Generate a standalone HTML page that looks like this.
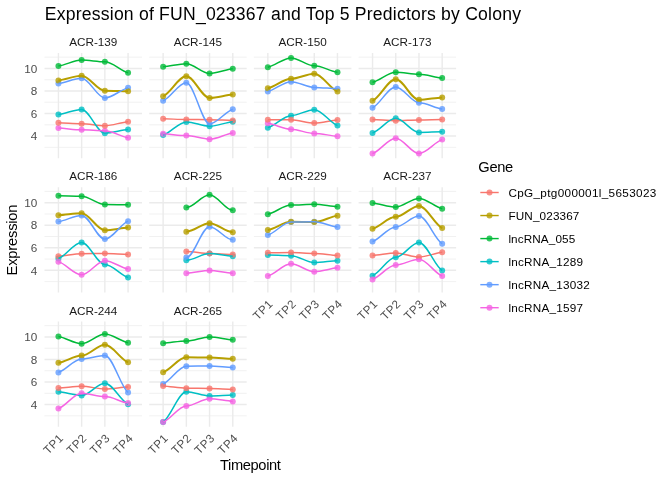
<!DOCTYPE html>
<html lang="en"><head><meta charset="utf-8"><title>Expression of FUN_023367 and Top 5 Predictors by Colony</title>
<style>html,body{margin:0;padding:0;background:#fff}svg{display:block}</style></head>
<body>
<svg width="672" height="480" viewBox="0 0 672 480" font-family="'Liberation Sans', sans-serif">
<rect width="672" height="480" fill="#fff"/>
<text x="44.8" y="19.8" font-size="17.6" fill="#000" textLength="476.2" lengthAdjust="spacing">Expression of FUN_023367 and Top 5 Predictors by Colony</text>
<g>
<text x="93.25" y="46" font-size="11.73" fill="#1A1A1A" text-anchor="middle">ACR-139</text>
<path d="M44.5,147.34H142M44.5,124.8H142M44.5,102.26H142M44.5,79.72H142M44.5,57.18H142" stroke="#EBEBEB" stroke-width="0.71" fill="none"/>
<path d="M44.5,136.07H142M44.5,113.53H142M44.5,90.99H142M44.5,68.45H142M58.43,53.1V158.3M81.64,53.1V158.3M104.86,53.1V158.3M128.07,53.1V158.3" stroke="#EBEBEB" stroke-width="1.42" fill="none"/>
<circle cx="58.43" cy="66.06" r="3" fill="#00BA38" fill-opacity="0.8"/>
<circle cx="81.64" cy="60.06" r="3" fill="#00BA38" fill-opacity="0.8"/>
<circle cx="104.86" cy="61.74" r="3" fill="#00BA38" fill-opacity="0.8"/>
<circle cx="128.07" cy="72.77" r="3" fill="#00BA38" fill-opacity="0.8"/>
<circle cx="58.43" cy="114.46" r="3" fill="#00BFC4" fill-opacity="0.8"/>
<circle cx="81.64" cy="109.43" r="3" fill="#00BFC4" fill-opacity="0.8"/>
<circle cx="104.86" cy="133.15" r="3" fill="#00BFC4" fill-opacity="0.8"/>
<circle cx="128.07" cy="129.56" r="3" fill="#00BFC4" fill-opacity="0.8"/>
<circle cx="58.43" cy="83.55" r="3" fill="#619CFF" fill-opacity="0.8"/>
<circle cx="81.64" cy="78.28" r="3" fill="#619CFF" fill-opacity="0.8"/>
<circle cx="104.86" cy="97.93" r="3" fill="#619CFF" fill-opacity="0.8"/>
<circle cx="128.07" cy="87.86" r="3" fill="#619CFF" fill-opacity="0.8"/>
<circle cx="58.43" cy="128.12" r="3" fill="#F564E3" fill-opacity="0.8"/>
<circle cx="81.64" cy="129.8" r="3" fill="#F564E3" fill-opacity="0.8"/>
<circle cx="104.86" cy="130.76" r="3" fill="#F564E3" fill-opacity="0.8"/>
<circle cx="128.07" cy="137.71" r="3" fill="#F564E3" fill-opacity="0.8"/>
<circle cx="58.43" cy="122.85" r="3" fill="#F8766D" fill-opacity="0.8"/>
<circle cx="81.64" cy="123.81" r="3" fill="#F8766D" fill-opacity="0.8"/>
<circle cx="104.86" cy="125.72" r="3" fill="#F8766D" fill-opacity="0.8"/>
<circle cx="128.07" cy="121.65" r="3" fill="#F8766D" fill-opacity="0.8"/>
<circle cx="58.43" cy="80.43" r="3" fill="#B79F00" fill-opacity="0.8"/>
<circle cx="81.64" cy="75.64" r="3" fill="#B79F00" fill-opacity="0.8"/>
<circle cx="104.86" cy="90.74" r="3" fill="#B79F00" fill-opacity="0.8"/>
<circle cx="128.07" cy="91.22" r="3" fill="#B79F00" fill-opacity="0.8"/>
<path d="M58.43,122.85C66.17,123.01 73.9,123.81 81.64,123.81C89.38,123.81 97.12,125.72 104.86,125.72C112.6,125.72 120.33,122.33 128.07,121.65" stroke="#F8766D" stroke-width="1.5" fill="none" stroke-linejoin="round"/>
<path d="M58.43,80.43C66.17,79.63 73.9,75.64 81.64,75.64C89.38,75.64 97.12,90.74 104.86,90.74C112.6,90.74 120.33,91.14 128.07,91.22" stroke="#B79F00" stroke-width="2" fill="none" stroke-linejoin="round"/>
<path d="M58.43,66.06C66.17,65.06 73.9,60.06 81.64,60.06C89.38,60.06 97.12,61.74 104.86,61.74C112.6,61.74 120.33,70.93 128.07,72.77" stroke="#00BA38" stroke-width="1.5" fill="none" stroke-linejoin="round"/>
<path d="M58.43,114.46C66.17,113.62 73.9,109.43 81.64,109.43C89.38,109.43 97.12,133.15 104.86,133.15C112.6,133.15 120.33,130.16 128.07,129.56" stroke="#00BFC4" stroke-width="1.5" fill="none" stroke-linejoin="round"/>
<path d="M58.43,83.55C66.17,82.67 73.9,78.28 81.64,78.28C89.38,78.28 97.12,97.93 104.86,97.93C112.6,97.93 120.33,89.54 128.07,87.86" stroke="#619CFF" stroke-width="1.5" fill="none" stroke-linejoin="round"/>
<path d="M58.43,128.12C66.17,128.4 73.9,129.8 81.64,129.8C89.38,129.8 97.12,130.76 104.86,130.76C112.6,130.76 120.33,136.55 128.07,137.71" stroke="#F564E3" stroke-width="1.5" fill="none" stroke-linejoin="round"/>
</g>
<text x="37.4" y="140.27" font-size="11.73" fill="#4D4D4D" text-anchor="end">4</text>
<text x="37.4" y="117.73" font-size="11.73" fill="#4D4D4D" text-anchor="end">6</text>
<text x="37.4" y="95.19" font-size="11.73" fill="#4D4D4D" text-anchor="end">8</text>
<text x="37.4" y="72.65" font-size="11.73" fill="#4D4D4D" text-anchor="end">10</text>
<g>
<text x="197.95" y="46" font-size="11.73" fill="#1A1A1A" text-anchor="middle">ACR-145</text>
<path d="M149.2,147.34H246.7M149.2,124.8H246.7M149.2,102.26H246.7M149.2,79.72H246.7M149.2,57.18H246.7" stroke="#EBEBEB" stroke-width="0.71" fill="none"/>
<path d="M149.2,136.07H246.7M149.2,113.53H246.7M149.2,90.99H246.7M149.2,68.45H246.7M163.13,53.1V158.3M186.34,53.1V158.3M209.56,53.1V158.3M232.77,53.1V158.3" stroke="#EBEBEB" stroke-width="1.42" fill="none"/>
<circle cx="163.13" cy="66.77" r="3" fill="#00BA38" fill-opacity="0.8"/>
<circle cx="186.34" cy="63.66" r="3" fill="#00BA38" fill-opacity="0.8"/>
<circle cx="209.56" cy="73.48" r="3" fill="#00BA38" fill-opacity="0.8"/>
<circle cx="232.77" cy="68.69" r="3" fill="#00BA38" fill-opacity="0.8"/>
<circle cx="163.13" cy="135.07" r="3" fill="#00BFC4" fill-opacity="0.8"/>
<circle cx="186.34" cy="121.89" r="3" fill="#00BFC4" fill-opacity="0.8"/>
<circle cx="209.56" cy="126.2" r="3" fill="#00BFC4" fill-opacity="0.8"/>
<circle cx="232.77" cy="121.65" r="3" fill="#00BFC4" fill-opacity="0.8"/>
<circle cx="163.13" cy="100.8" r="3" fill="#619CFF" fill-opacity="0.8"/>
<circle cx="186.34" cy="82.83" r="3" fill="#619CFF" fill-opacity="0.8"/>
<circle cx="209.56" cy="123.81" r="3" fill="#619CFF" fill-opacity="0.8"/>
<circle cx="232.77" cy="109.19" r="3" fill="#619CFF" fill-opacity="0.8"/>
<circle cx="163.13" cy="133.87" r="3" fill="#F564E3" fill-opacity="0.8"/>
<circle cx="186.34" cy="135.55" r="3" fill="#F564E3" fill-opacity="0.8"/>
<circle cx="209.56" cy="139.14" r="3" fill="#F564E3" fill-opacity="0.8"/>
<circle cx="232.77" cy="132.91" r="3" fill="#F564E3" fill-opacity="0.8"/>
<circle cx="163.13" cy="118.78" r="3" fill="#F8766D" fill-opacity="0.8"/>
<circle cx="186.34" cy="119.49" r="3" fill="#F8766D" fill-opacity="0.8"/>
<circle cx="209.56" cy="119.73" r="3" fill="#F8766D" fill-opacity="0.8"/>
<circle cx="232.77" cy="120.45" r="3" fill="#F8766D" fill-opacity="0.8"/>
<circle cx="163.13" cy="96.25" r="3" fill="#B79F00" fill-opacity="0.8"/>
<circle cx="186.34" cy="76.36" r="3" fill="#B79F00" fill-opacity="0.8"/>
<circle cx="209.56" cy="97.93" r="3" fill="#B79F00" fill-opacity="0.8"/>
<circle cx="232.77" cy="94.57" r="3" fill="#B79F00" fill-opacity="0.8"/>
<path d="M163.13,118.78C170.87,118.9 178.6,119.49 186.34,119.49C194.08,119.49 201.82,119.73 209.56,119.73C217.3,119.73 225.03,120.33 232.77,120.45" stroke="#F8766D" stroke-width="1.5" fill="none" stroke-linejoin="round"/>
<path d="M163.13,96.25C170.87,92.93 178.6,76.36 186.34,76.36C194.08,76.36 201.82,97.93 209.56,97.93C217.3,97.93 225.03,95.13 232.77,94.57" stroke="#B79F00" stroke-width="2" fill="none" stroke-linejoin="round"/>
<path d="M163.13,66.77C170.87,66.26 178.6,63.66 186.34,63.66C194.08,63.66 201.82,73.48 209.56,73.48C217.3,73.48 225.03,69.49 232.77,68.69" stroke="#00BA38" stroke-width="1.5" fill="none" stroke-linejoin="round"/>
<path d="M163.13,135.07C170.87,132.87 178.6,121.89 186.34,121.89C194.08,121.89 201.82,126.2 209.56,126.2C217.3,126.2 225.03,122.41 232.77,121.65" stroke="#00BFC4" stroke-width="1.5" fill="none" stroke-linejoin="round"/>
<path d="M163.13,100.8C170.87,97.81 178.6,82.83 186.34,82.83C194.08,82.83 201.82,123.81 209.56,123.81C217.3,123.81 225.03,111.63 232.77,109.19" stroke="#619CFF" stroke-width="1.5" fill="none" stroke-linejoin="round"/>
<path d="M163.13,133.87C170.87,134.15 178.6,135.55 186.34,135.55C194.08,135.55 201.82,139.14 209.56,139.14C217.3,139.14 225.03,133.95 232.77,132.91" stroke="#F564E3" stroke-width="1.5" fill="none" stroke-linejoin="round"/>
</g>
<g>
<text x="302.65" y="46" font-size="11.73" fill="#1A1A1A" text-anchor="middle">ACR-150</text>
<path d="M253.9,147.34H351.4M253.9,124.8H351.4M253.9,102.26H351.4M253.9,79.72H351.4M253.9,57.18H351.4" stroke="#EBEBEB" stroke-width="0.71" fill="none"/>
<path d="M253.9,136.07H351.4M253.9,113.53H351.4M253.9,90.99H351.4M253.9,68.45H351.4M267.83,53.1V158.3M291.04,53.1V158.3M314.26,53.1V158.3M337.47,53.1V158.3" stroke="#EBEBEB" stroke-width="1.42" fill="none"/>
<circle cx="267.83" cy="67.25" r="3" fill="#00BA38" fill-opacity="0.8"/>
<circle cx="291.04" cy="57.91" r="3" fill="#00BA38" fill-opacity="0.8"/>
<circle cx="314.26" cy="65.82" r="3" fill="#00BA38" fill-opacity="0.8"/>
<circle cx="337.47" cy="72.29" r="3" fill="#00BA38" fill-opacity="0.8"/>
<circle cx="267.83" cy="127.64" r="3" fill="#00BFC4" fill-opacity="0.8"/>
<circle cx="291.04" cy="115.66" r="3" fill="#00BFC4" fill-opacity="0.8"/>
<circle cx="314.26" cy="109.67" r="3" fill="#00BFC4" fill-opacity="0.8"/>
<circle cx="337.47" cy="125.49" r="3" fill="#00BFC4" fill-opacity="0.8"/>
<circle cx="267.83" cy="91.46" r="3" fill="#619CFF" fill-opacity="0.8"/>
<circle cx="291.04" cy="81.63" r="3" fill="#619CFF" fill-opacity="0.8"/>
<circle cx="314.26" cy="87.38" r="3" fill="#619CFF" fill-opacity="0.8"/>
<circle cx="337.47" cy="88.82" r="3" fill="#619CFF" fill-opacity="0.8"/>
<circle cx="267.83" cy="123.33" r="3" fill="#F564E3" fill-opacity="0.8"/>
<circle cx="291.04" cy="129.32" r="3" fill="#F564E3" fill-opacity="0.8"/>
<circle cx="314.26" cy="133.39" r="3" fill="#F564E3" fill-opacity="0.8"/>
<circle cx="337.47" cy="136.27" r="3" fill="#F564E3" fill-opacity="0.8"/>
<circle cx="267.83" cy="119.73" r="3" fill="#F8766D" fill-opacity="0.8"/>
<circle cx="291.04" cy="119.73" r="3" fill="#F8766D" fill-opacity="0.8"/>
<circle cx="314.26" cy="123.09" r="3" fill="#F8766D" fill-opacity="0.8"/>
<circle cx="337.47" cy="119.97" r="3" fill="#F8766D" fill-opacity="0.8"/>
<circle cx="267.83" cy="88.34" r="3" fill="#B79F00" fill-opacity="0.8"/>
<circle cx="291.04" cy="78.76" r="3" fill="#B79F00" fill-opacity="0.8"/>
<circle cx="314.26" cy="73.72" r="3" fill="#B79F00" fill-opacity="0.8"/>
<circle cx="337.47" cy="91.46" r="3" fill="#B79F00" fill-opacity="0.8"/>
<path d="M267.83,119.73C275.57,119.73 283.3,119.73 291.04,119.73C298.78,119.73 306.52,123.09 314.26,123.09C322,123.09 329.73,120.49 337.47,119.97" stroke="#F8766D" stroke-width="1.5" fill="none" stroke-linejoin="round"/>
<path d="M267.83,88.34C275.57,86.74 283.3,78.76 291.04,78.76C298.78,78.76 306.52,73.72 314.26,73.72C322,73.72 329.73,88.5 337.47,91.46" stroke="#B79F00" stroke-width="2" fill="none" stroke-linejoin="round"/>
<path d="M267.83,67.25C275.57,65.7 283.3,57.91 291.04,57.91C298.78,57.91 306.52,65.82 314.26,65.82C322,65.82 329.73,71.21 337.47,72.29" stroke="#00BA38" stroke-width="1.5" fill="none" stroke-linejoin="round"/>
<path d="M267.83,127.64C275.57,125.65 283.3,115.66 291.04,115.66C298.78,115.66 306.52,109.67 314.26,109.67C322,109.67 329.73,122.85 337.47,125.49" stroke="#00BFC4" stroke-width="1.5" fill="none" stroke-linejoin="round"/>
<path d="M267.83,91.46C275.57,89.82 283.3,81.63 291.04,81.63C298.78,81.63 306.52,87.38 314.26,87.38C322,87.38 329.73,88.58 337.47,88.82" stroke="#619CFF" stroke-width="1.5" fill="none" stroke-linejoin="round"/>
<path d="M267.83,123.33C275.57,124.33 283.3,129.32 291.04,129.32C298.78,129.32 306.52,133.39 314.26,133.39C322,133.39 329.73,135.79 337.47,136.27" stroke="#F564E3" stroke-width="1.5" fill="none" stroke-linejoin="round"/>
</g>
<g>
<text x="407.35" y="46" font-size="11.73" fill="#1A1A1A" text-anchor="middle">ACR-173</text>
<path d="M358.6,147.34H456.1M358.6,124.8H456.1M358.6,102.26H456.1M358.6,79.72H456.1M358.6,57.18H456.1" stroke="#EBEBEB" stroke-width="0.71" fill="none"/>
<path d="M358.6,136.07H456.1M358.6,113.53H456.1M358.6,90.99H456.1M358.6,68.45H456.1M372.53,53.1V158.3M395.74,53.1V158.3M418.96,53.1V158.3M442.17,53.1V158.3" stroke="#EBEBEB" stroke-width="1.42" fill="none"/>
<circle cx="372.53" cy="82.35" r="3" fill="#00BA38" fill-opacity="0.8"/>
<circle cx="395.74" cy="72.29" r="3" fill="#00BA38" fill-opacity="0.8"/>
<circle cx="418.96" cy="74.2" r="3" fill="#00BA38" fill-opacity="0.8"/>
<circle cx="442.17" cy="78.04" r="3" fill="#00BA38" fill-opacity="0.8"/>
<circle cx="372.53" cy="132.91" r="3" fill="#00BFC4" fill-opacity="0.8"/>
<circle cx="395.74" cy="118.3" r="3" fill="#00BFC4" fill-opacity="0.8"/>
<circle cx="418.96" cy="132.43" r="3" fill="#00BFC4" fill-opacity="0.8"/>
<circle cx="442.17" cy="131.72" r="3" fill="#00BFC4" fill-opacity="0.8"/>
<circle cx="372.53" cy="107.75" r="3" fill="#619CFF" fill-opacity="0.8"/>
<circle cx="395.74" cy="86.9" r="3" fill="#619CFF" fill-opacity="0.8"/>
<circle cx="418.96" cy="102.72" r="3" fill="#619CFF" fill-opacity="0.8"/>
<circle cx="442.17" cy="108.95" r="3" fill="#619CFF" fill-opacity="0.8"/>
<circle cx="372.53" cy="153.52" r="3" fill="#F564E3" fill-opacity="0.8"/>
<circle cx="395.74" cy="138.19" r="3" fill="#F564E3" fill-opacity="0.8"/>
<circle cx="418.96" cy="153.52" r="3" fill="#F564E3" fill-opacity="0.8"/>
<circle cx="442.17" cy="139.62" r="3" fill="#F564E3" fill-opacity="0.8"/>
<circle cx="372.53" cy="119.49" r="3" fill="#F8766D" fill-opacity="0.8"/>
<circle cx="395.74" cy="120.69" r="3" fill="#F8766D" fill-opacity="0.8"/>
<circle cx="418.96" cy="119.97" r="3" fill="#F8766D" fill-opacity="0.8"/>
<circle cx="442.17" cy="119.49" r="3" fill="#F8766D" fill-opacity="0.8"/>
<circle cx="372.53" cy="100.8" r="3" fill="#B79F00" fill-opacity="0.8"/>
<circle cx="395.74" cy="79.24" r="3" fill="#B79F00" fill-opacity="0.8"/>
<circle cx="418.96" cy="99.84" r="3" fill="#B79F00" fill-opacity="0.8"/>
<circle cx="442.17" cy="97.45" r="3" fill="#B79F00" fill-opacity="0.8"/>
<path d="M372.53,119.49C380.27,119.69 388,120.69 395.74,120.69C403.48,120.69 411.22,119.97 418.96,119.97C426.7,119.97 434.43,119.57 442.17,119.49" stroke="#F8766D" stroke-width="1.5" fill="none" stroke-linejoin="round"/>
<path d="M372.53,100.8C380.27,97.21 388,79.24 395.74,79.24C403.48,79.24 411.22,99.84 418.96,99.84C426.7,99.84 434.43,97.85 442.17,97.45" stroke="#B79F00" stroke-width="2" fill="none" stroke-linejoin="round"/>
<path d="M372.53,82.35C380.27,80.67 388,72.29 395.74,72.29C403.48,72.29 411.22,74.2 418.96,74.2C426.7,74.2 434.43,77.4 442.17,78.04" stroke="#00BA38" stroke-width="1.5" fill="none" stroke-linejoin="round"/>
<path d="M372.53,132.91C380.27,130.48 388,118.3 395.74,118.3C403.48,118.3 411.22,132.43 418.96,132.43C426.7,132.43 434.43,131.84 442.17,131.72" stroke="#00BFC4" stroke-width="1.5" fill="none" stroke-linejoin="round"/>
<path d="M372.53,107.75C380.27,104.28 388,86.9 395.74,86.9C403.48,86.9 411.22,102.72 418.96,102.72C426.7,102.72 434.43,107.91 442.17,108.95" stroke="#619CFF" stroke-width="1.5" fill="none" stroke-linejoin="round"/>
<path d="M372.53,153.52C380.27,150.97 388,138.19 395.74,138.19C403.48,138.19 411.22,153.52 418.96,153.52C426.7,153.52 434.43,141.94 442.17,139.62" stroke="#F564E3" stroke-width="1.5" fill="none" stroke-linejoin="round"/>
</g>
<g>
<text x="93.25" y="180.25" font-size="11.73" fill="#1A1A1A" text-anchor="middle">ACR-186</text>
<path d="M44.5,281.59H142M44.5,259.05H142M44.5,236.51H142M44.5,213.97H142M44.5,191.43H142" stroke="#EBEBEB" stroke-width="0.71" fill="none"/>
<path d="M44.5,270.32H142M44.5,247.78H142M44.5,225.24H142M44.5,202.7H142M58.43,187.35V292.55M81.64,187.35V292.55M104.86,187.35V292.55M128.07,187.35V292.55" stroke="#EBEBEB" stroke-width="1.42" fill="none"/>
<circle cx="58.43" cy="195.74" r="3" fill="#00BA38" fill-opacity="0.8"/>
<circle cx="81.64" cy="196.22" r="3" fill="#00BA38" fill-opacity="0.8"/>
<circle cx="104.86" cy="204.61" r="3" fill="#00BA38" fill-opacity="0.8"/>
<circle cx="128.07" cy="204.85" r="3" fill="#00BA38" fill-opacity="0.8"/>
<circle cx="58.43" cy="258.53" r="3" fill="#00BFC4" fill-opacity="0.8"/>
<circle cx="81.64" cy="242.47" r="3" fill="#00BFC4" fill-opacity="0.8"/>
<circle cx="104.86" cy="264.52" r="3" fill="#00BFC4" fill-opacity="0.8"/>
<circle cx="128.07" cy="277.46" r="3" fill="#00BFC4" fill-opacity="0.8"/>
<circle cx="58.43" cy="221.62" r="3" fill="#619CFF" fill-opacity="0.8"/>
<circle cx="81.64" cy="215.39" r="3" fill="#619CFF" fill-opacity="0.8"/>
<circle cx="104.86" cy="239.12" r="3" fill="#619CFF" fill-opacity="0.8"/>
<circle cx="128.07" cy="221.14" r="3" fill="#619CFF" fill-opacity="0.8"/>
<circle cx="58.43" cy="261.64" r="3" fill="#F564E3" fill-opacity="0.8"/>
<circle cx="81.64" cy="274.82" r="3" fill="#F564E3" fill-opacity="0.8"/>
<circle cx="104.86" cy="260.68" r="3" fill="#F564E3" fill-opacity="0.8"/>
<circle cx="128.07" cy="269.07" r="3" fill="#F564E3" fill-opacity="0.8"/>
<circle cx="58.43" cy="256.13" r="3" fill="#F8766D" fill-opacity="0.8"/>
<circle cx="81.64" cy="253.73" r="3" fill="#F8766D" fill-opacity="0.8"/>
<circle cx="104.86" cy="253.49" r="3" fill="#F8766D" fill-opacity="0.8"/>
<circle cx="128.07" cy="254.45" r="3" fill="#F8766D" fill-opacity="0.8"/>
<circle cx="58.43" cy="215.15" r="3" fill="#B79F00" fill-opacity="0.8"/>
<circle cx="81.64" cy="213.24" r="3" fill="#B79F00" fill-opacity="0.8"/>
<circle cx="104.86" cy="230.25" r="3" fill="#B79F00" fill-opacity="0.8"/>
<circle cx="128.07" cy="227.61" r="3" fill="#B79F00" fill-opacity="0.8"/>
<path d="M58.43,256.13C66.17,255.73 73.9,253.73 81.64,253.73C89.38,253.73 97.12,253.49 104.86,253.49C112.6,253.49 120.33,254.29 128.07,254.45" stroke="#F8766D" stroke-width="1.5" fill="none" stroke-linejoin="round"/>
<path d="M58.43,215.15C66.17,214.83 73.9,213.24 81.64,213.24C89.38,213.24 97.12,230.25 104.86,230.25C112.6,230.25 120.33,228.05 128.07,227.61" stroke="#B79F00" stroke-width="2" fill="none" stroke-linejoin="round"/>
<path d="M58.43,195.74C66.17,195.82 73.9,196.22 81.64,196.22C89.38,196.22 97.12,204.61 104.86,204.61C112.6,204.61 120.33,204.81 128.07,204.85" stroke="#00BA38" stroke-width="1.5" fill="none" stroke-linejoin="round"/>
<path d="M58.43,258.53C66.17,255.85 73.9,242.47 81.64,242.47C89.38,242.47 97.12,264.52 104.86,264.52C112.6,264.52 120.33,275.3 128.07,277.46" stroke="#00BFC4" stroke-width="1.5" fill="none" stroke-linejoin="round"/>
<path d="M58.43,221.62C66.17,220.58 73.9,215.39 81.64,215.39C89.38,215.39 97.12,239.12 104.86,239.12C112.6,239.12 120.33,224.14 128.07,221.14" stroke="#619CFF" stroke-width="1.5" fill="none" stroke-linejoin="round"/>
<path d="M58.43,261.64C66.17,263.84 73.9,274.82 81.64,274.82C89.38,274.82 97.12,260.68 104.86,260.68C112.6,260.68 120.33,267.67 128.07,269.07" stroke="#F564E3" stroke-width="1.5" fill="none" stroke-linejoin="round"/>
</g>
<text x="37.4" y="274.52" font-size="11.73" fill="#4D4D4D" text-anchor="end">4</text>
<text x="37.4" y="251.98" font-size="11.73" fill="#4D4D4D" text-anchor="end">6</text>
<text x="37.4" y="229.44" font-size="11.73" fill="#4D4D4D" text-anchor="end">8</text>
<text x="37.4" y="206.9" font-size="11.73" fill="#4D4D4D" text-anchor="end">10</text>
<g>
<text x="197.95" y="180.25" font-size="11.73" fill="#1A1A1A" text-anchor="middle">ACR-225</text>
<path d="M149.2,281.59H246.7M149.2,259.05H246.7M149.2,236.51H246.7M149.2,213.97H246.7M149.2,191.43H246.7" stroke="#EBEBEB" stroke-width="0.71" fill="none"/>
<path d="M149.2,270.32H246.7M149.2,247.78H246.7M149.2,225.24H246.7M149.2,202.7H246.7M163.13,187.35V292.55M186.34,187.35V292.55M209.56,187.35V292.55M232.77,187.35V292.55" stroke="#EBEBEB" stroke-width="1.42" fill="none"/>
<circle cx="186.34" cy="207.48" r="3" fill="#00BA38" fill-opacity="0.8"/>
<circle cx="209.56" cy="194.78" r="3" fill="#00BA38" fill-opacity="0.8"/>
<circle cx="232.77" cy="210.36" r="3" fill="#00BA38" fill-opacity="0.8"/>
<circle cx="186.34" cy="260.2" r="3" fill="#00BFC4" fill-opacity="0.8"/>
<circle cx="209.56" cy="253.49" r="3" fill="#00BFC4" fill-opacity="0.8"/>
<circle cx="232.77" cy="256.13" r="3" fill="#00BFC4" fill-opacity="0.8"/>
<circle cx="186.34" cy="257.57" r="3" fill="#619CFF" fill-opacity="0.8"/>
<circle cx="209.56" cy="226.66" r="3" fill="#619CFF" fill-opacity="0.8"/>
<circle cx="232.77" cy="239.84" r="3" fill="#619CFF" fill-opacity="0.8"/>
<circle cx="186.34" cy="273.14" r="3" fill="#F564E3" fill-opacity="0.8"/>
<circle cx="209.56" cy="270.51" r="3" fill="#F564E3" fill-opacity="0.8"/>
<circle cx="232.77" cy="273.14" r="3" fill="#F564E3" fill-opacity="0.8"/>
<circle cx="186.34" cy="251.58" r="3" fill="#F8766D" fill-opacity="0.8"/>
<circle cx="209.56" cy="253.49" r="3" fill="#F8766D" fill-opacity="0.8"/>
<circle cx="232.77" cy="254.45" r="3" fill="#F8766D" fill-opacity="0.8"/>
<circle cx="186.34" cy="231.69" r="3" fill="#B79F00" fill-opacity="0.8"/>
<circle cx="209.56" cy="223.3" r="3" fill="#B79F00" fill-opacity="0.8"/>
<circle cx="232.77" cy="232.17" r="3" fill="#B79F00" fill-opacity="0.8"/>
<path d="M186.34,251.58C194.08,251.58 201.82,253.49 209.56,253.49C217.3,253.49 225.03,254.45 232.77,254.45" stroke="#F8766D" stroke-width="1.5" fill="none" stroke-linejoin="round"/>
<path d="M186.34,231.69C194.08,231.69 201.82,223.3 209.56,223.3C217.3,223.3 225.03,232.17 232.77,232.17" stroke="#B79F00" stroke-width="2" fill="none" stroke-linejoin="round"/>
<path d="M186.34,207.48C194.08,207.48 201.82,194.78 209.56,194.78C217.3,194.78 225.03,210.36 232.77,210.36" stroke="#00BA38" stroke-width="1.5" fill="none" stroke-linejoin="round"/>
<path d="M186.34,260.2C194.08,260.2 201.82,253.49 209.56,253.49C217.3,253.49 225.03,256.13 232.77,256.13" stroke="#00BFC4" stroke-width="1.5" fill="none" stroke-linejoin="round"/>
<path d="M186.34,257.57C194.08,257.57 201.82,226.66 209.56,226.66C217.3,226.66 225.03,239.84 232.77,239.84" stroke="#619CFF" stroke-width="1.5" fill="none" stroke-linejoin="round"/>
<path d="M186.34,273.14C194.08,273.14 201.82,270.51 209.56,270.51C217.3,270.51 225.03,273.14 232.77,273.14" stroke="#F564E3" stroke-width="1.5" fill="none" stroke-linejoin="round"/>
</g>
<g>
<text x="302.65" y="180.25" font-size="11.73" fill="#1A1A1A" text-anchor="middle">ACR-229</text>
<path d="M253.9,281.59H351.4M253.9,259.05H351.4M253.9,236.51H351.4M253.9,213.97H351.4M253.9,191.43H351.4" stroke="#EBEBEB" stroke-width="0.71" fill="none"/>
<path d="M253.9,270.32H351.4M253.9,247.78H351.4M253.9,225.24H351.4M253.9,202.7H351.4M267.83,187.35V292.55M291.04,187.35V292.55M314.26,187.35V292.55M337.47,187.35V292.55" stroke="#EBEBEB" stroke-width="1.42" fill="none"/>
<circle cx="267.83" cy="214.19" r="3" fill="#00BA38" fill-opacity="0.8"/>
<circle cx="291.04" cy="205.09" r="3" fill="#00BA38" fill-opacity="0.8"/>
<circle cx="314.26" cy="204.37" r="3" fill="#00BA38" fill-opacity="0.8"/>
<circle cx="337.47" cy="206.77" r="3" fill="#00BA38" fill-opacity="0.8"/>
<circle cx="267.83" cy="254.93" r="3" fill="#00BFC4" fill-opacity="0.8"/>
<circle cx="291.04" cy="255.65" r="3" fill="#00BFC4" fill-opacity="0.8"/>
<circle cx="314.26" cy="262.6" r="3" fill="#00BFC4" fill-opacity="0.8"/>
<circle cx="337.47" cy="260.68" r="3" fill="#00BFC4" fill-opacity="0.8"/>
<circle cx="267.83" cy="235.04" r="3" fill="#619CFF" fill-opacity="0.8"/>
<circle cx="291.04" cy="222.1" r="3" fill="#619CFF" fill-opacity="0.8"/>
<circle cx="314.26" cy="221.86" r="3" fill="#619CFF" fill-opacity="0.8"/>
<circle cx="337.47" cy="226.89" r="3" fill="#619CFF" fill-opacity="0.8"/>
<circle cx="267.83" cy="276.02" r="3" fill="#F564E3" fill-opacity="0.8"/>
<circle cx="291.04" cy="263.8" r="3" fill="#F564E3" fill-opacity="0.8"/>
<circle cx="314.26" cy="271.71" r="3" fill="#F564E3" fill-opacity="0.8"/>
<circle cx="337.47" cy="267.87" r="3" fill="#F564E3" fill-opacity="0.8"/>
<circle cx="267.83" cy="252.78" r="3" fill="#F8766D" fill-opacity="0.8"/>
<circle cx="291.04" cy="252.54" r="3" fill="#F8766D" fill-opacity="0.8"/>
<circle cx="314.26" cy="253.49" r="3" fill="#F8766D" fill-opacity="0.8"/>
<circle cx="337.47" cy="255.41" r="3" fill="#F8766D" fill-opacity="0.8"/>
<circle cx="267.83" cy="230.01" r="3" fill="#B79F00" fill-opacity="0.8"/>
<circle cx="291.04" cy="221.86" r="3" fill="#B79F00" fill-opacity="0.8"/>
<circle cx="314.26" cy="222.1" r="3" fill="#B79F00" fill-opacity="0.8"/>
<circle cx="337.47" cy="215.63" r="3" fill="#B79F00" fill-opacity="0.8"/>
<path d="M267.83,252.78C275.57,252.74 283.3,252.54 291.04,252.54C298.78,252.54 306.52,253.49 314.26,253.49C322,253.49 329.73,255.09 337.47,255.41" stroke="#F8766D" stroke-width="1.5" fill="none" stroke-linejoin="round"/>
<path d="M267.83,230.01C275.57,228.65 283.3,221.86 291.04,221.86C298.78,221.86 306.52,222.1 314.26,222.1C322,222.1 329.73,216.71 337.47,215.63" stroke="#B79F00" stroke-width="2" fill="none" stroke-linejoin="round"/>
<path d="M267.83,214.19C275.57,212.68 283.3,205.09 291.04,205.09C298.78,205.09 306.52,204.37 314.26,204.37C322,204.37 329.73,206.37 337.47,206.77" stroke="#00BA38" stroke-width="1.5" fill="none" stroke-linejoin="round"/>
<path d="M267.83,254.93C275.57,255.05 283.3,255.65 291.04,255.65C298.78,255.65 306.52,262.6 314.26,262.6C322,262.6 329.73,261 337.47,260.68" stroke="#00BFC4" stroke-width="1.5" fill="none" stroke-linejoin="round"/>
<path d="M267.83,235.04C275.57,232.89 283.3,222.1 291.04,222.1C298.78,222.1 306.52,221.86 314.26,221.86C322,221.86 329.73,226.06 337.47,226.89" stroke="#619CFF" stroke-width="1.5" fill="none" stroke-linejoin="round"/>
<path d="M267.83,276.02C275.57,273.98 283.3,263.8 291.04,263.8C298.78,263.8 306.52,271.71 314.26,271.71C322,271.71 329.73,268.51 337.47,267.87" stroke="#F564E3" stroke-width="1.5" fill="none" stroke-linejoin="round"/>
</g>
<g>
<text x="407.35" y="180.25" font-size="11.73" fill="#1A1A1A" text-anchor="middle">ACR-237</text>
<path d="M358.6,281.59H456.1M358.6,259.05H456.1M358.6,236.51H456.1M358.6,213.97H456.1M358.6,191.43H456.1" stroke="#EBEBEB" stroke-width="0.71" fill="none"/>
<path d="M358.6,270.32H456.1M358.6,247.78H456.1M358.6,225.24H456.1M358.6,202.7H456.1M372.53,187.35V292.55M395.74,187.35V292.55M418.96,187.35V292.55M442.17,187.35V292.55" stroke="#EBEBEB" stroke-width="1.42" fill="none"/>
<circle cx="372.53" cy="202.93" r="3" fill="#00BA38" fill-opacity="0.8"/>
<circle cx="395.74" cy="207.01" r="3" fill="#00BA38" fill-opacity="0.8"/>
<circle cx="418.96" cy="198.38" r="3" fill="#00BA38" fill-opacity="0.8"/>
<circle cx="442.17" cy="208.68" r="3" fill="#00BA38" fill-opacity="0.8"/>
<circle cx="372.53" cy="275.78" r="3" fill="#00BFC4" fill-opacity="0.8"/>
<circle cx="395.74" cy="257.33" r="3" fill="#00BFC4" fill-opacity="0.8"/>
<circle cx="418.96" cy="242.47" r="3" fill="#00BFC4" fill-opacity="0.8"/>
<circle cx="442.17" cy="270.51" r="3" fill="#00BFC4" fill-opacity="0.8"/>
<circle cx="372.53" cy="241.51" r="3" fill="#619CFF" fill-opacity="0.8"/>
<circle cx="395.74" cy="226.89" r="3" fill="#619CFF" fill-opacity="0.8"/>
<circle cx="418.96" cy="216.11" r="3" fill="#619CFF" fill-opacity="0.8"/>
<circle cx="442.17" cy="243.67" r="3" fill="#619CFF" fill-opacity="0.8"/>
<circle cx="372.53" cy="279.38" r="3" fill="#F564E3" fill-opacity="0.8"/>
<circle cx="395.74" cy="265" r="3" fill="#F564E3" fill-opacity="0.8"/>
<circle cx="418.96" cy="259.25" r="3" fill="#F564E3" fill-opacity="0.8"/>
<circle cx="442.17" cy="276.02" r="3" fill="#F564E3" fill-opacity="0.8"/>
<circle cx="372.53" cy="255.41" r="3" fill="#F8766D" fill-opacity="0.8"/>
<circle cx="395.74" cy="253.02" r="3" fill="#F8766D" fill-opacity="0.8"/>
<circle cx="418.96" cy="257.09" r="3" fill="#F8766D" fill-opacity="0.8"/>
<circle cx="442.17" cy="252.3" r="3" fill="#F8766D" fill-opacity="0.8"/>
<circle cx="372.53" cy="228.81" r="3" fill="#B79F00" fill-opacity="0.8"/>
<circle cx="395.74" cy="216.83" r="3" fill="#B79F00" fill-opacity="0.8"/>
<circle cx="418.96" cy="206.05" r="3" fill="#B79F00" fill-opacity="0.8"/>
<circle cx="442.17" cy="228.09" r="3" fill="#B79F00" fill-opacity="0.8"/>
<path d="M372.53,255.41C380.27,255.01 388,253.02 395.74,253.02C403.48,253.02 411.22,257.09 418.96,257.09C426.7,257.09 434.43,253.09 442.17,252.3" stroke="#F8766D" stroke-width="1.5" fill="none" stroke-linejoin="round"/>
<path d="M372.53,228.81C380.27,226.81 388,216.83 395.74,216.83C403.48,216.83 411.22,206.05 418.96,206.05C426.7,206.05 434.43,224.42 442.17,228.09" stroke="#B79F00" stroke-width="2" fill="none" stroke-linejoin="round"/>
<path d="M372.53,202.93C380.27,203.61 388,207.01 395.74,207.01C403.48,207.01 411.22,198.38 418.96,198.38C426.7,198.38 434.43,206.97 442.17,208.68" stroke="#00BA38" stroke-width="1.5" fill="none" stroke-linejoin="round"/>
<path d="M372.53,275.78C380.27,272.71 388,257.33 395.74,257.33C403.48,257.33 411.22,242.47 418.96,242.47C426.7,242.47 434.43,265.84 442.17,270.51" stroke="#00BFC4" stroke-width="1.5" fill="none" stroke-linejoin="round"/>
<path d="M372.53,241.51C380.27,239.08 388,226.89 395.74,226.89C403.48,226.89 411.22,216.11 418.96,216.11C426.7,216.11 434.43,239.08 442.17,243.67" stroke="#619CFF" stroke-width="1.5" fill="none" stroke-linejoin="round"/>
<path d="M372.53,279.38C380.27,276.98 388,265 395.74,265C403.48,265 411.22,259.25 418.96,259.25C426.7,259.25 434.43,273.22 442.17,276.02" stroke="#F564E3" stroke-width="1.5" fill="none" stroke-linejoin="round"/>
</g>
<g>
<text x="93.25" y="314.5" font-size="11.73" fill="#1A1A1A" text-anchor="middle">ACR-244</text>
<path d="M44.5,415.84H142M44.5,393.3H142M44.5,370.76H142M44.5,348.22H142M44.5,325.68H142" stroke="#EBEBEB" stroke-width="0.71" fill="none"/>
<path d="M44.5,404.57H142M44.5,382.03H142M44.5,359.49H142M44.5,336.95H142M58.43,321.6V426.8M81.64,321.6V426.8M104.86,321.6V426.8M128.07,321.6V426.8" stroke="#EBEBEB" stroke-width="1.42" fill="none"/>
<circle cx="58.43" cy="336.45" r="3" fill="#00BA38" fill-opacity="0.8"/>
<circle cx="81.64" cy="343.64" r="3" fill="#00BA38" fill-opacity="0.8"/>
<circle cx="104.86" cy="334.06" r="3" fill="#00BA38" fill-opacity="0.8"/>
<circle cx="128.07" cy="342.68" r="3" fill="#00BA38" fill-opacity="0.8"/>
<circle cx="58.43" cy="391.81" r="3" fill="#00BFC4" fill-opacity="0.8"/>
<circle cx="81.64" cy="395.4" r="3" fill="#00BFC4" fill-opacity="0.8"/>
<circle cx="104.86" cy="383.18" r="3" fill="#00BFC4" fill-opacity="0.8"/>
<circle cx="128.07" cy="404.27" r="3" fill="#00BFC4" fill-opacity="0.8"/>
<circle cx="58.43" cy="372.4" r="3" fill="#619CFF" fill-opacity="0.8"/>
<circle cx="81.64" cy="358.98" r="3" fill="#619CFF" fill-opacity="0.8"/>
<circle cx="104.86" cy="355.38" r="3" fill="#619CFF" fill-opacity="0.8"/>
<circle cx="128.07" cy="392.53" r="3" fill="#619CFF" fill-opacity="0.8"/>
<circle cx="58.43" cy="408.58" r="3" fill="#F564E3" fill-opacity="0.8"/>
<circle cx="81.64" cy="393.25" r="3" fill="#F564E3" fill-opacity="0.8"/>
<circle cx="104.86" cy="396.6" r="3" fill="#F564E3" fill-opacity="0.8"/>
<circle cx="128.07" cy="403.07" r="3" fill="#F564E3" fill-opacity="0.8"/>
<circle cx="58.43" cy="387.97" r="3" fill="#F8766D" fill-opacity="0.8"/>
<circle cx="81.64" cy="386.3" r="3" fill="#F8766D" fill-opacity="0.8"/>
<circle cx="104.86" cy="388.93" r="3" fill="#F8766D" fill-opacity="0.8"/>
<circle cx="128.07" cy="387.02" r="3" fill="#F8766D" fill-opacity="0.8"/>
<circle cx="58.43" cy="362.81" r="3" fill="#B79F00" fill-opacity="0.8"/>
<circle cx="81.64" cy="355.62" r="3" fill="#B79F00" fill-opacity="0.8"/>
<circle cx="104.86" cy="344.84" r="3" fill="#B79F00" fill-opacity="0.8"/>
<circle cx="128.07" cy="362.33" r="3" fill="#B79F00" fill-opacity="0.8"/>
<path d="M58.43,387.97C66.17,387.69 73.9,386.3 81.64,386.3C89.38,386.3 97.12,388.93 104.86,388.93C112.6,388.93 120.33,387.33 128.07,387.02" stroke="#F8766D" stroke-width="1.5" fill="none" stroke-linejoin="round"/>
<path d="M58.43,362.81C66.17,361.61 73.9,355.62 81.64,355.62C89.38,355.62 97.12,344.84 104.86,344.84C112.6,344.84 120.33,359.42 128.07,362.33" stroke="#B79F00" stroke-width="2" fill="none" stroke-linejoin="round"/>
<path d="M58.43,336.45C66.17,337.65 73.9,343.64 81.64,343.64C89.38,343.64 97.12,334.06 104.86,334.06C112.6,334.06 120.33,341.24 128.07,342.68" stroke="#00BA38" stroke-width="1.5" fill="none" stroke-linejoin="round"/>
<path d="M58.43,391.81C66.17,392.41 73.9,395.4 81.64,395.4C89.38,395.4 97.12,383.18 104.86,383.18C112.6,383.18 120.33,400.75 128.07,404.27" stroke="#00BFC4" stroke-width="1.5" fill="none" stroke-linejoin="round"/>
<path d="M58.43,372.4C66.17,370.16 73.9,358.98 81.64,358.98C89.38,358.98 97.12,355.38 104.86,355.38C112.6,355.38 120.33,386.34 128.07,392.53" stroke="#619CFF" stroke-width="1.5" fill="none" stroke-linejoin="round"/>
<path d="M58.43,408.58C66.17,406.03 73.9,393.25 81.64,393.25C89.38,393.25 97.12,396.6 104.86,396.6C112.6,396.6 120.33,401.99 128.07,403.07" stroke="#F564E3" stroke-width="1.5" fill="none" stroke-linejoin="round"/>
</g>
<text x="37.4" y="408.77" font-size="11.73" fill="#4D4D4D" text-anchor="end">4</text>
<text x="37.4" y="386.23" font-size="11.73" fill="#4D4D4D" text-anchor="end">6</text>
<text x="37.4" y="363.69" font-size="11.73" fill="#4D4D4D" text-anchor="end">8</text>
<text x="37.4" y="341.15" font-size="11.73" fill="#4D4D4D" text-anchor="end">10</text>
<g>
<text x="197.95" y="314.5" font-size="11.73" fill="#1A1A1A" text-anchor="middle">ACR-265</text>
<path d="M149.2,415.84H246.7M149.2,393.3H246.7M149.2,370.76H246.7M149.2,348.22H246.7M149.2,325.68H246.7" stroke="#EBEBEB" stroke-width="0.71" fill="none"/>
<path d="M149.2,404.57H246.7M149.2,382.03H246.7M149.2,359.49H246.7M149.2,336.95H246.7M163.13,321.6V426.8M186.34,321.6V426.8M209.56,321.6V426.8M232.77,321.6V426.8" stroke="#EBEBEB" stroke-width="1.42" fill="none"/>
<circle cx="163.13" cy="343.16" r="3" fill="#00BA38" fill-opacity="0.8"/>
<circle cx="186.34" cy="341.01" r="3" fill="#00BA38" fill-opacity="0.8"/>
<circle cx="209.56" cy="336.93" r="3" fill="#00BA38" fill-opacity="0.8"/>
<circle cx="232.77" cy="339.81" r="3" fill="#00BA38" fill-opacity="0.8"/>
<circle cx="163.13" cy="422" r="3" fill="#00BFC4" fill-opacity="0.8"/>
<circle cx="186.34" cy="391.81" r="3" fill="#00BFC4" fill-opacity="0.8"/>
<circle cx="209.56" cy="395.88" r="3" fill="#00BFC4" fill-opacity="0.8"/>
<circle cx="232.77" cy="394.92" r="3" fill="#00BFC4" fill-opacity="0.8"/>
<circle cx="163.13" cy="383.9" r="3" fill="#619CFF" fill-opacity="0.8"/>
<circle cx="186.34" cy="366.17" r="3" fill="#619CFF" fill-opacity="0.8"/>
<circle cx="209.56" cy="365.93" r="3" fill="#619CFF" fill-opacity="0.8"/>
<circle cx="232.77" cy="367.6" r="3" fill="#619CFF" fill-opacity="0.8"/>
<circle cx="163.13" cy="422" r="3" fill="#F564E3" fill-opacity="0.8"/>
<circle cx="186.34" cy="405.95" r="3" fill="#F564E3" fill-opacity="0.8"/>
<circle cx="209.56" cy="398.76" r="3" fill="#F564E3" fill-opacity="0.8"/>
<circle cx="232.77" cy="401.39" r="3" fill="#F564E3" fill-opacity="0.8"/>
<circle cx="163.13" cy="386.06" r="3" fill="#F8766D" fill-opacity="0.8"/>
<circle cx="186.34" cy="388.21" r="3" fill="#F8766D" fill-opacity="0.8"/>
<circle cx="209.56" cy="388.45" r="3" fill="#F8766D" fill-opacity="0.8"/>
<circle cx="232.77" cy="389.41" r="3" fill="#F8766D" fill-opacity="0.8"/>
<circle cx="163.13" cy="372.16" r="3" fill="#B79F00" fill-opacity="0.8"/>
<circle cx="186.34" cy="357.3" r="3" fill="#B79F00" fill-opacity="0.8"/>
<circle cx="209.56" cy="357.54" r="3" fill="#B79F00" fill-opacity="0.8"/>
<circle cx="232.77" cy="358.74" r="3" fill="#B79F00" fill-opacity="0.8"/>
<path d="M163.13,386.06C170.87,386.42 178.6,388.21 186.34,388.21C194.08,388.21 201.82,388.45 209.56,388.45C217.3,388.45 225.03,389.25 232.77,389.41" stroke="#F8766D" stroke-width="1.5" fill="none" stroke-linejoin="round"/>
<path d="M163.13,372.16C170.87,369.68 178.6,357.3 186.34,357.3C194.08,357.3 201.82,357.54 209.56,357.54C217.3,357.54 225.03,358.54 232.77,358.74" stroke="#B79F00" stroke-width="2" fill="none" stroke-linejoin="round"/>
<path d="M163.13,343.16C170.87,342.8 178.6,341.01 186.34,341.01C194.08,341.01 201.82,336.93 209.56,336.93C217.3,336.93 225.03,339.33 232.77,339.81" stroke="#00BA38" stroke-width="1.5" fill="none" stroke-linejoin="round"/>
<path d="M163.13,422C170.87,416.97 178.6,391.81 186.34,391.81C194.08,391.81 201.82,395.88 209.56,395.88C217.3,395.88 225.03,395.08 232.77,394.92" stroke="#00BFC4" stroke-width="1.5" fill="none" stroke-linejoin="round"/>
<path d="M163.13,383.9C170.87,380.94 178.6,366.17 186.34,366.17C194.08,366.17 201.82,365.93 209.56,365.93C217.3,365.93 225.03,367.33 232.77,367.6" stroke="#619CFF" stroke-width="1.5" fill="none" stroke-linejoin="round"/>
<path d="M163.13,422C170.87,419.33 178.6,405.95 186.34,405.95C194.08,405.95 201.82,398.76 209.56,398.76C217.3,398.76 225.03,400.95 232.77,401.39" stroke="#F564E3" stroke-width="1.5" fill="none" stroke-linejoin="round"/>
</g>
<text transform="translate(273.33,304.95) rotate(-45)" font-size="11.73" fill="#4D4D4D" text-anchor="end" textLength="22.2" lengthAdjust="spacing">TP1</text>
<text transform="translate(296.54,304.95) rotate(-45)" font-size="11.73" fill="#4D4D4D" text-anchor="end" textLength="22.2" lengthAdjust="spacing">TP2</text>
<text transform="translate(319.76,304.95) rotate(-45)" font-size="11.73" fill="#4D4D4D" text-anchor="end" textLength="22.2" lengthAdjust="spacing">TP3</text>
<text transform="translate(342.97,304.95) rotate(-45)" font-size="11.73" fill="#4D4D4D" text-anchor="end" textLength="22.2" lengthAdjust="spacing">TP4</text>
<text transform="translate(378.03,304.95) rotate(-45)" font-size="11.73" fill="#4D4D4D" text-anchor="end" textLength="22.2" lengthAdjust="spacing">TP1</text>
<text transform="translate(401.24,304.95) rotate(-45)" font-size="11.73" fill="#4D4D4D" text-anchor="end" textLength="22.2" lengthAdjust="spacing">TP2</text>
<text transform="translate(424.46,304.95) rotate(-45)" font-size="11.73" fill="#4D4D4D" text-anchor="end" textLength="22.2" lengthAdjust="spacing">TP3</text>
<text transform="translate(447.67,304.95) rotate(-45)" font-size="11.73" fill="#4D4D4D" text-anchor="end" textLength="22.2" lengthAdjust="spacing">TP4</text>
<text transform="translate(63.93,439.2) rotate(-45)" font-size="11.73" fill="#4D4D4D" text-anchor="end" textLength="22.2" lengthAdjust="spacing">TP1</text>
<text transform="translate(87.14,439.2) rotate(-45)" font-size="11.73" fill="#4D4D4D" text-anchor="end" textLength="22.2" lengthAdjust="spacing">TP2</text>
<text transform="translate(110.36,439.2) rotate(-45)" font-size="11.73" fill="#4D4D4D" text-anchor="end" textLength="22.2" lengthAdjust="spacing">TP3</text>
<text transform="translate(133.57,439.2) rotate(-45)" font-size="11.73" fill="#4D4D4D" text-anchor="end" textLength="22.2" lengthAdjust="spacing">TP4</text>
<text transform="translate(168.63,439.2) rotate(-45)" font-size="11.73" fill="#4D4D4D" text-anchor="end" textLength="22.2" lengthAdjust="spacing">TP1</text>
<text transform="translate(191.84,439.2) rotate(-45)" font-size="11.73" fill="#4D4D4D" text-anchor="end" textLength="22.2" lengthAdjust="spacing">TP2</text>
<text transform="translate(215.06,439.2) rotate(-45)" font-size="11.73" fill="#4D4D4D" text-anchor="end" textLength="22.2" lengthAdjust="spacing">TP3</text>
<text transform="translate(238.27,439.2) rotate(-45)" font-size="11.73" fill="#4D4D4D" text-anchor="end" textLength="22.2" lengthAdjust="spacing">TP4</text>
<text x="220.0" y="469.6" font-size="14.67" fill="#000" textLength="60.9" lengthAdjust="spacing">Timepoint</text>
<text transform="translate(17.2,275.4) rotate(-90)" font-size="14.67" fill="#000" textLength="70.9" lengthAdjust="spacing">Expression</text>
<text x="478.3" y="171.6" font-size="14.67" fill="#000" textLength="34.9" lengthAdjust="spacing">Gene</text>
<path d="M480.3,192.5H498.7" stroke="#F8766D" stroke-width="1.42"/>
<circle cx="489.5" cy="192.5" r="3" fill="#F8766D" fill-opacity="0.8"/>
<text x="508.4" y="196.7" font-size="11.73" fill="#000" textLength="147.9" lengthAdjust="spacing">CpG_ptg000001l_5653023</text>
<path d="M480.3,215.54H498.7" stroke="#B79F00" stroke-width="1.42"/>
<circle cx="489.5" cy="215.54" r="3" fill="#B79F00" fill-opacity="0.8"/>
<text x="508.4" y="219.74" font-size="11.73" fill="#000" textLength="71" lengthAdjust="spacing">FUN_023367</text>
<path d="M480.3,238.58H498.7" stroke="#00BA38" stroke-width="1.42"/>
<circle cx="489.5" cy="238.58" r="3" fill="#00BA38" fill-opacity="0.8"/>
<text x="508.4" y="242.78" font-size="11.73" fill="#000" textLength="66.8" lengthAdjust="spacing">lncRNA_055</text>
<path d="M480.3,261.62H498.7" stroke="#00BFC4" stroke-width="1.42"/>
<circle cx="489.5" cy="261.62" r="3" fill="#00BFC4" fill-opacity="0.8"/>
<text x="508.4" y="265.82" font-size="11.73" fill="#000" textLength="74.7" lengthAdjust="spacing">lncRNA_1289</text>
<path d="M480.3,284.66H498.7" stroke="#619CFF" stroke-width="1.42"/>
<circle cx="489.5" cy="284.66" r="3" fill="#619CFF" fill-opacity="0.8"/>
<text x="508.4" y="288.86" font-size="11.73" fill="#000" textLength="81.4" lengthAdjust="spacing">lncRNA_13032</text>
<path d="M480.3,307.7H498.7" stroke="#F564E3" stroke-width="1.42"/>
<circle cx="489.5" cy="307.7" r="3" fill="#F564E3" fill-opacity="0.8"/>
<text x="508.4" y="311.9" font-size="11.73" fill="#000" textLength="74.7" lengthAdjust="spacing">lncRNA_1597</text>
</svg>
</body></html>
